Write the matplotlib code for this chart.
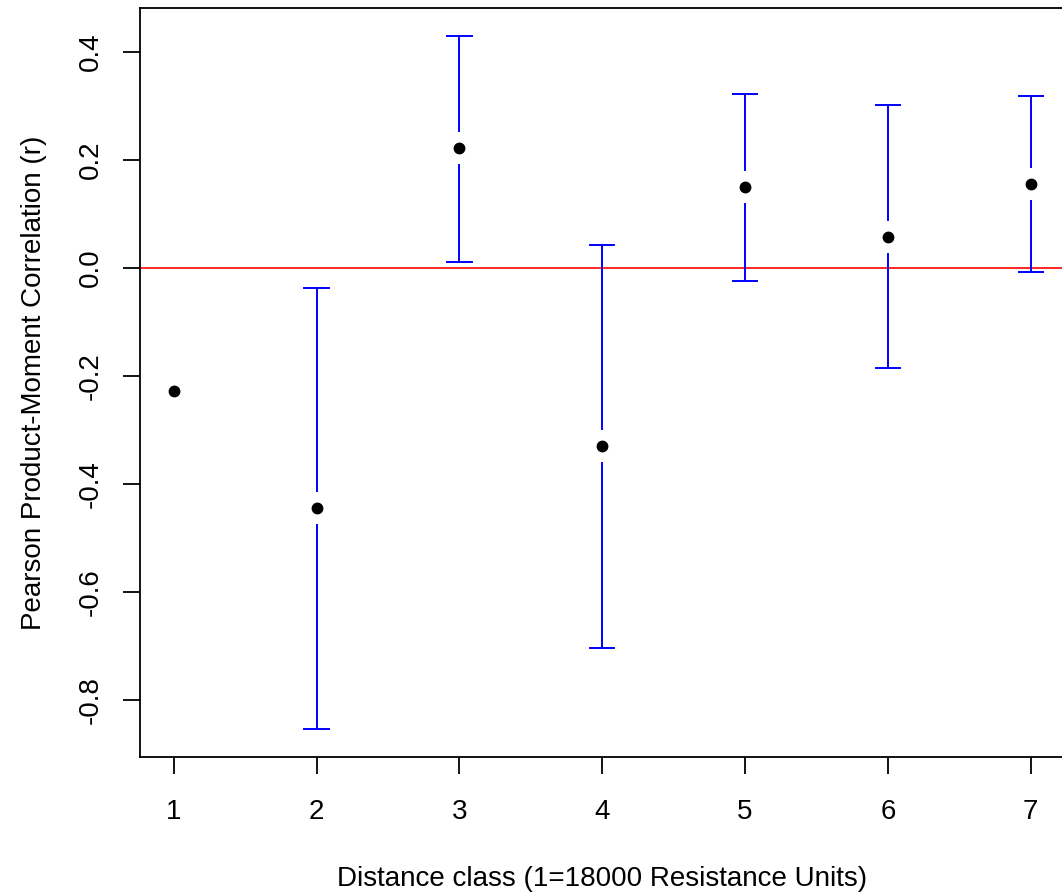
import numpy as np
import matplotlib.pyplot as plt

plt.rcParams["font.family"] = ["Liberation Sans", "DejaVu Sans"]

# distance classes and correlogram values
classes = [1, 2, 3, 4, 5, 6, 7]
r_values = [-0.228, -0.444, 0.222, -0.330, 0.150, 0.057, 0.156]
ci_upper = [np.nan, -0.037, 0.430, 0.043, 0.322, 0.302, 0.319]
ci_lower = [np.nan, -0.854, 0.011, -0.704, -0.024, -0.185, -0.007]
yticks = [-0.8, -0.6, -0.4, -0.2, 0.0, 0.2, 0.4]
ytick_labels = ["-0.8", "-0.6", "-0.4", "-0.2", "0.0", "0.2", "0.4"]

fig = plt.figure(figsize=(10.62, 8.94), dpi=100)
ax = fig.add_axes([139.5 / 1062, 1 - 757 / 894, (1065 - 139.5) / 1062, (757 - 8) / 894])

# R-style 4% padding around the data range
lo = np.nanmin(ci_lower)
hi = np.nanmax(ci_upper)
pad = 0.04 * (hi - lo)
ax.set_ylim(lo - pad, hi + pad)
ax.set_xlim(1 - 0.04 * 6, 7 + 0.04 * 6)

ax.axhline(0, color="red", lw=1.2, zorder=1)

# error bars with a gap around each point, like plotCI
gap = 17 / 540
cap = 0.085
for x, y, up, dn in zip(classes, r_values, ci_upper, ci_lower):
    if np.isnan(up):
        continue
    if up > y + gap:
        ax.plot([x, x], [y + gap, up], color="blue", lw=1.4, zorder=2)
    if dn < y - gap:
        ax.plot([x, x], [dn, y - gap], color="blue", lw=1.4, zorder=2)
    ax.plot([x - cap, x + cap], [up, up], color="blue", lw=1.4, zorder=2)
    ax.plot([x - cap, x + cap], [dn, dn], color="blue", lw=1.4, zorder=2)

ax.plot(classes, r_values, "o", color="black", ms=7.5, zorder=3)

ax.set_xticks(classes)
ax.set_xticklabels([str(c) for c in classes])
ax.set_yticks(yticks)
ax.set_yticklabels(ytick_labels, rotation=90, va="center")
ax.tick_params(axis="both", labelsize=20, length=12, width=1.3, direction="out")
ax.tick_params(axis="x", pad=18)
ax.tick_params(axis="y", pad=14)

for s in ax.spines.values():
    s.set_linewidth(1.3)

ax.set_xlabel("Distance class (1=18000 Resistance Units)", fontsize=20, labelpad=30)
ax.set_ylabel("Pearson Product-Moment Correlation (r)", fontsize=20, labelpad=22)

fig.savefig("out.png", dpi=100)
plt.close(fig)
